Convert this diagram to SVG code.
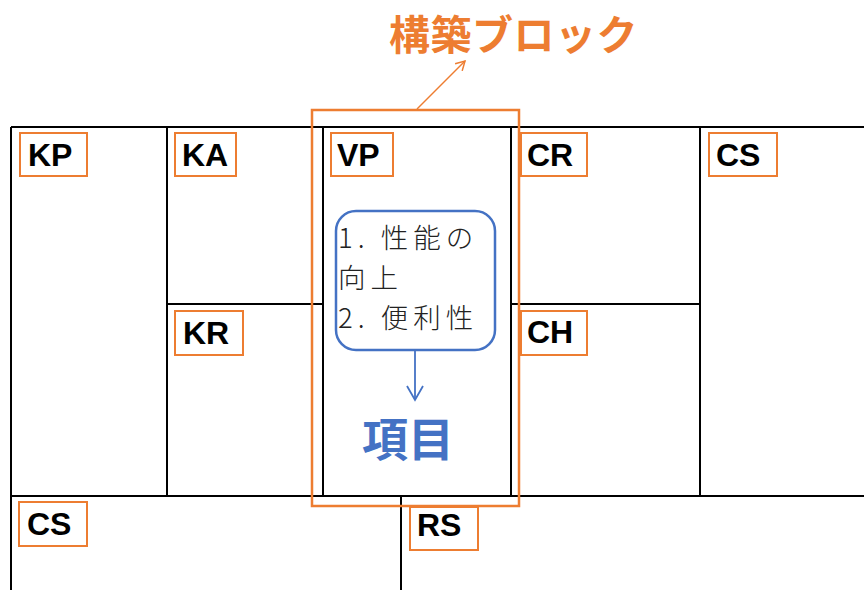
<svg xmlns="http://www.w3.org/2000/svg" width="864" height="590" viewBox="0 0 864 590">
<style>
.grid{stroke:#000;stroke-width:2;fill:none}
.lbox{fill:#fff;stroke:#ED7D31;stroke-width:2}
.lbl{font-family:"Liberation Sans",Arial,sans-serif;font-weight:bold;font-size:32px;fill:#000}
.jp{font-family:"Noto Sans CJK JP","Noto Sans",sans-serif}
</style>
<defs>
<marker id="arrO" viewBox="0 0 12 12" refX="10" refY="6" markerWidth="12" markerHeight="12" markerUnits="userSpaceOnUse" orient="auto">
<path d="M1,1 L10,6 L1,11" fill="none" stroke="#ED7D31" stroke-width="1.5"/>
</marker>
<marker id="arrB" viewBox="0 0 18 18" refX="16" refY="9" markerWidth="18" markerHeight="18" markerUnits="userSpaceOnUse" orient="auto">
<path d="M2,1 L16,9 L2,17" fill="none" stroke="#4472C4" stroke-width="1.8"/>
</marker>
</defs>
<rect width="864" height="590" fill="#fff"/>
<g id="grid">
<path class="grid" d="M11,127 H864 M11,127 V590 M11,496 H864 M167,127 V496 M323,127 V496 M511,127 V496 M700,127 V496 M167,304 H323 M511,304 H700 M401,496 V590"/>
</g>
<g id="KP"><rect class="lbox" x="20" y="133" width="67" height="43"/><text class="lbl" x="28" y="166">KP</text></g>
<g id="KA"><rect class="lbox" x="175" y="133" width="61" height="43"/><text class="lbl" x="182" y="166">KA</text></g>
<g id="KR"><rect class="lbox" x="175" y="311" width="68" height="44"/><text class="lbl" x="183" y="344">KR</text></g>
<g id="VP"><rect class="lbox" x="331" y="133" width="62" height="43"/><text class="lbl" x="337" y="166">VP</text></g>
<g id="CR"><rect class="lbox" x="521" y="133" width="66" height="43"/><text class="lbl" x="527" y="166">CR</text></g>
<g id="CH"><rect class="lbox" x="521" y="311" width="66" height="44"/><text class="lbl" x="527" y="343">CH</text></g>
<g id="CS-seg"><rect class="lbox" x="709" y="133" width="68" height="43"/><text class="lbl" x="716" y="166">CS</text></g>
<g id="CS-cost"><rect class="lbox" x="19" y="502" width="68" height="44"/><text class="lbl" x="27" y="535">CS</text></g>
<g id="RS"><rect class="lbox" x="410" y="507" width="68" height="43"/><text class="lbl" x="417" y="536">RS</text></g>
<g id="block-highlight">
<rect x="312" y="110" width="207" height="396" fill="none" stroke="#ED7D31" stroke-width="2.5"/>
</g>
<g id="title">
<text class="jp" x="389" y="50" font-size="41" font-weight="bold" fill="#ED7D31" letter-spacing="0.5">構築ブロック</text>
</g>
<g id="callout">
<rect x="336" y="211" width="159" height="139" rx="20" ry="20" fill="#fff" stroke="#4472C4" stroke-width="2.5"/>
<text class="jp" font-size="27.5" font-weight="300" fill="#222" letter-spacing="5">
<tspan x="338" y="248">1. 性能の</tspan>
<tspan x="338" y="288">向上</tspan>
<tspan x="338" y="328">2. 便利性</tspan>
</text>
</g>
<g id="item">
<text class="jp" x="408" y="456" font-size="46" font-weight="bold" fill="#4472C4" text-anchor="middle">項目</text>
</g>
<g id="connectors">
<line x1="417" y1="109" x2="465" y2="61" stroke="#ED7D31" stroke-width="1.5" marker-end="url(#arrO)"/>
<line x1="415" y1="350" x2="415" y2="400" stroke="#4472C4" stroke-width="1.8" marker-end="url(#arrB)"/>
</g>
</svg>
